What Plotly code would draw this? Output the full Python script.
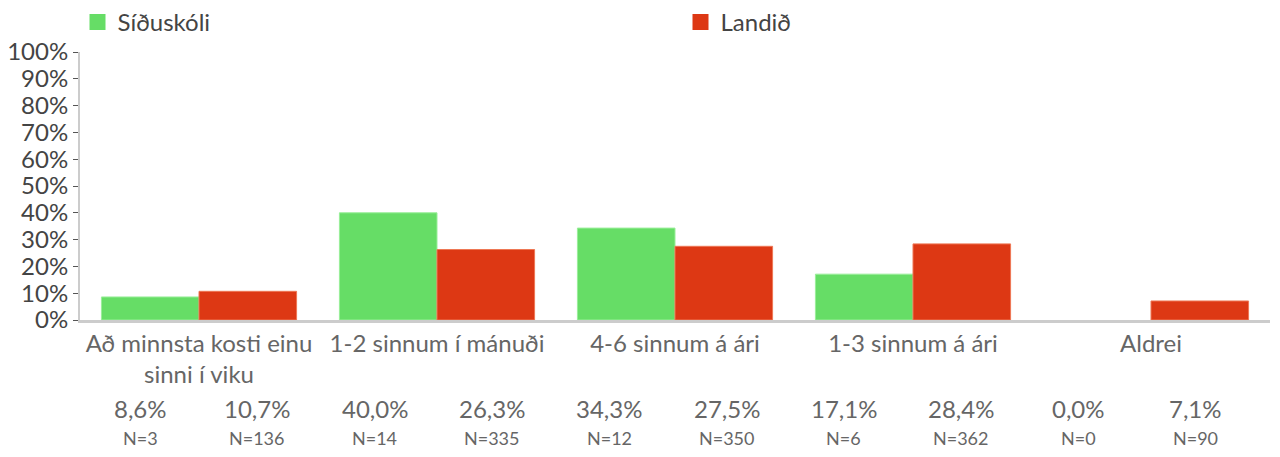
import plotly.graph_objects as go

categories = ["Að minnsta kosti einu<br>sinni í viku", "1-2 sinnum í mánuði",
              "4-6 sinnum á ári", "1-3 sinnum á ári", "Aldrei"]
series_names = ["Síðuskóli", "Landið"]
sidu_values = [8.6, 40.0, 34.3, 17.1, 0.0]
landid_values = [10.7, 26.3, 27.5, 28.4, 7.1]
sidu_n = [3, 14, 12, 6, 0]
landid_n = [136, 335, 350, 362, 90]
y_ticks = [0, 10, 20, 30, 40, 50, 60, 70, 80, 90, 100]

# page body has an 8px default margin; work in screen pixels and convert
OFF = 8
W, H = 1280 - OFF, 457 - OFF
PX0, PX1, PY0, PY1 = 80, 1270, 52, 320
ML, MR = PX0 - OFF, (W + OFF) - PX1
MT, MB = PY0 - OFF, (H + OFF) - PY1
PW = PX1 - PX0
PH = PY1 - PY0

FONT = "Lato, 'Noto Sans', sans-serif"
GREEN = "#66dd66"
RED = "#dd3814"
COLORS = [GREEN, RED]
EDGES = ["#99ee99", "#ee7755"]

def sx(px):
    return (px - PX0) / PW

def sy(py):
    return (PY1 - py) / PH

fig = go.Figure()
for name, vals, col, edge in zip(series_names, [sidu_values, landid_values], COLORS, EDGES):
    fig.add_trace(go.Bar(
        name=name, x=categories, y=vals, showlegend=False,
        marker=dict(color=col, line=dict(color=edge, width=[1 if v > 0 else 0 for v in vals])),
    ))

# legend entries (two separate legends, as in the reference)
for i, (name, col) in enumerate(zip(series_names, COLORS)):
    fig.add_trace(go.Scatter(
        name=name, x=[None], y=[None], mode="markers",
        marker=dict(symbol="square", size=17, color=col),
        legend="legend" if i == 0 else "legend2", showlegend=True,
    ))

annotations = []
pct_vals, n_vals = [], []
for s, l, sn, ln in zip(sidu_values, landid_values, sidu_n, landid_n):
    pct_vals += [s, l]
    n_vals += [sn, ln]
for i, (p, n) in enumerate(zip(pct_vals, n_vals)):
    cx = 140 + i * 117.3
    annotations.append(dict(
        x=sx(cx), y=sy(408), xref="paper", yref="paper",
        xanchor="center", yanchor="middle", showarrow=False,
        text=f"{p:.1f}%".replace(".", ","),
        font=dict(family=FONT, size=24, color="#666666"),
    ))
    annotations.append(dict(
        x=sx(cx), y=sy(438), xref="paper", yref="paper",
        xanchor="center", yanchor="middle", showarrow=False,
        text=f"N={n}",
        font=dict(family=FONT, size=18, color="#666666"),
    ))

LEG_CY = 22.5  # screen y of legend row centre
legend_common = dict(
    orientation="h", xref="container", yref="container",
    xanchor="left", yanchor="middle",
    font=dict(family=FONT, size=24, color="#444444"),
    itemsizing="trace", bgcolor="rgba(0,0,0,0)",
)
fig.update_layout(
    width=W, height=H,
    margin=dict(l=ML, r=MR, t=MT, b=MB, autoexpand=False),
    plot_bgcolor="white", paper_bgcolor="white",
    barmode="group", bargap=0.18, bargroupgap=0,
    font=dict(family=FONT, color="#444444"),
    showlegend=True,
    legend=dict(x=(77.5 - OFF) / W, y=1 - (LEG_CY - OFF) / H, **legend_common),
    legend2=dict(x=(680.5 - OFF) / W, y=1 - (LEG_CY - OFF) / H, **legend_common),
    annotations=annotations,
)
fig.update_xaxes(
    showgrid=False, zeroline=False, automargin=False, layer="below traces",
    showline=True, linecolor="#cccccc", linewidth=3, ticks="",
    tickfont=dict(family=FONT, size=24, color="#666666"),
)
fig.update_yaxes(
    range=[0, 100], tickvals=y_ticks, ticktext=[f"{v}%" for v in y_ticks],
    automargin=False,
    showgrid=False, zeroline=False, showline=True, linecolor="#cccccc", linewidth=2,
    ticks="outside", ticklen=5, tickcolor="#555555", tickwidth=1,
    tickfont=dict(family=FONT, size=24, color="#444444"),
)

fig.write_html("out.html")
